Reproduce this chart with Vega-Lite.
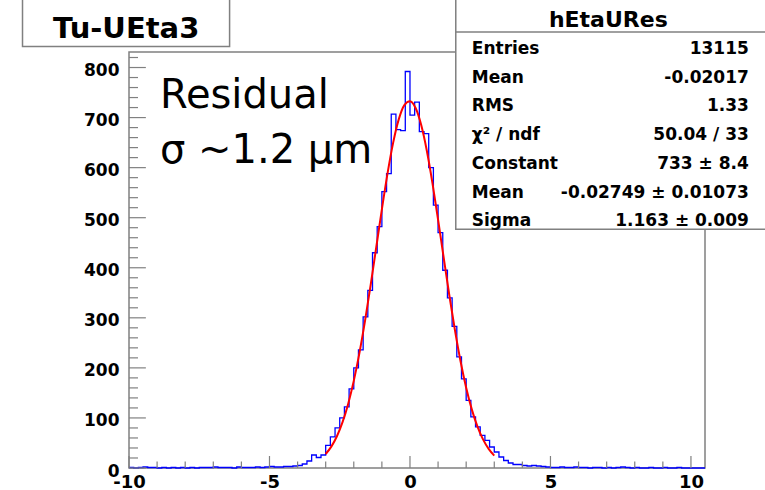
{
  "$schema": "https://vega.github.io/schema/vega-lite/v6.json",
  "width": 576,
  "height": 416,
  "autosize": {"type": "none"},
  "padding": {"left": 129, "top": 52, "right": 60, "bottom": 22},
  "background": "white",
  "config": {"view": {"stroke": "#808080", "strokeWidth": 1.5}, "font": "DejaVu Sans"},
  "datasets": {
    "hist": [
      {"x": -10, "n": 1}, {"x": -9.8333, "n": 0}, {"x": -9.6667, "n": 1}, {"x": -9.5, "n": 2}, {"x": -9.3333, "n": 1},
      {"x": -9.1667, "n": 1}, {"x": -9, "n": 0}, {"x": -8.8333, "n": 1}, {"x": -8.6667, "n": 0}, {"x": -8.5, "n": 1},
      {"x": -8.3333, "n": 0}, {"x": -8.1667, "n": 1}, {"x": -8, "n": 0}, {"x": -7.8333, "n": 1}, {"x": -7.6667, "n": 0},
      {"x": -7.5, "n": 1}, {"x": -7.3333, "n": 1}, {"x": -7.1667, "n": 1}, {"x": -7, "n": 2}, {"x": -6.8333, "n": 1},
      {"x": -6.6667, "n": 1}, {"x": -6.5, "n": 1}, {"x": -6.3333, "n": 0}, {"x": -6.1667, "n": 2}, {"x": -6, "n": 1},
      {"x": -5.8333, "n": 1}, {"x": -5.6667, "n": 1}, {"x": -5.5, "n": 2}, {"x": -5.3333, "n": 1}, {"x": -5.1667, "n": 2},
      {"x": -5, "n": 3}, {"x": -4.8333, "n": 2}, {"x": -4.6667, "n": 2}, {"x": -4.5, "n": 3}, {"x": -4.3333, "n": 3},
      {"x": -4.1667, "n": 4}, {"x": -4, "n": 5}, {"x": -3.8333, "n": 8}, {"x": -3.6667, "n": 14}, {"x": -3.5, "n": 26},
      {"x": -3.3333, "n": 21}, {"x": -3.1667, "n": 26}, {"x": -3, "n": 45}, {"x": -2.8333, "n": 62}, {"x": -2.6667, "n": 80},
      {"x": -2.5, "n": 100}, {"x": -2.3333, "n": 122}, {"x": -2.1667, "n": 158}, {"x": -2, "n": 200}, {"x": -1.8333, "n": 236},
      {"x": -1.6667, "n": 302}, {"x": -1.5, "n": 355}, {"x": -1.3333, "n": 430}, {"x": -1.1667, "n": 482}, {"x": -1, "n": 552},
      {"x": -0.8333, "n": 588}, {"x": -0.6667, "n": 707}, {"x": -0.5, "n": 676}, {"x": -0.3333, "n": 674}, {"x": -0.1667, "n": 792},
      {"x": 0, "n": 705}, {"x": 0.1667, "n": 731}, {"x": 0.3333, "n": 672}, {"x": 0.5, "n": 668}, {"x": 0.6667, "n": 600},
      {"x": 0.8333, "n": 525}, {"x": 1, "n": 470}, {"x": 1.1667, "n": 395}, {"x": 1.3333, "n": 340}, {"x": 1.5, "n": 283},
      {"x": 1.6667, "n": 222}, {"x": 1.8333, "n": 178}, {"x": 2, "n": 135}, {"x": 2.1667, "n": 102}, {"x": 2.3333, "n": 82},
      {"x": 2.5, "n": 65}, {"x": 2.6667, "n": 55}, {"x": 2.8333, "n": 42}, {"x": 3, "n": 32}, {"x": 3.1667, "n": 22},
      {"x": 3.3333, "n": 15}, {"x": 3.5, "n": 10}, {"x": 3.6667, "n": 7}, {"x": 3.8333, "n": 7}, {"x": 4, "n": 5},
      {"x": 4.1667, "n": 4}, {"x": 4.3333, "n": 5}, {"x": 4.5, "n": 4}, {"x": 4.6667, "n": 3}, {"x": 4.8333, "n": 2},
      {"x": 5, "n": 1}, {"x": 5.1667, "n": 1}, {"x": 5.3333, "n": 2}, {"x": 5.5, "n": 1}, {"x": 5.6667, "n": 1},
      {"x": 5.8333, "n": 2}, {"x": 6, "n": 1}, {"x": 6.1667, "n": 1}, {"x": 6.3333, "n": 0}, {"x": 6.5, "n": 1},
      {"x": 6.6667, "n": 1}, {"x": 6.8333, "n": 0}, {"x": 7, "n": 1}, {"x": 7.1667, "n": 0}, {"x": 7.3333, "n": 1},
      {"x": 7.5, "n": 2}, {"x": 7.6667, "n": 1}, {"x": 7.8333, "n": 0}, {"x": 8, "n": 1}, {"x": 8.1667, "n": 0},
      {"x": 8.3333, "n": 0}, {"x": 8.5, "n": 1}, {"x": 8.6667, "n": 0}, {"x": 8.8333, "n": 0}, {"x": 9, "n": 1},
      {"x": 9.1667, "n": 0}, {"x": 9.3333, "n": 0}, {"x": 9.5, "n": 1}, {"x": 9.6667, "n": 0}, {"x": 9.8333, "n": 0},
      {"x": 10, "n": 0}, {"x": 10.1667, "n": 0}, {"x": 10.3333, "n": 0}, {"x": 10.5, "n": 0}
    ],
    "fit": [
      {"x": -3.0, "f": 27.96}, {"x": -2.8, "f": 42.76}, {"x": -2.6, "f": 63.49}, {"x": -2.4, "f": 91.5}, {"x": -2.2, "f": 128.0},
      {"x": -2.0, "f": 174.0}, {"x": -1.8, "f": 229.5}, {"x": -1.6, "f": 293.8}, {"x": -1.4, "f": 365.3}, {"x": -1.2, "f": 441.0},
      {"x": -1.0, "f": 516.7}, {"x": -0.8, "f": 587.9}, {"x": -0.6, "f": 649.4}, {"x": -0.4, "f": 696.4}, {"x": -0.2, "f": 725.0},
      {"x": 0.0, "f": 732.8}, {"x": 0.2, "f": 719.1}, {"x": 0.4, "f": 685.1}, {"x": 0.6, "f": 633.7}, {"x": 0.8, "f": 569.1},
      {"x": 1.0, "f": 496.1}, {"x": 1.2, "f": 420.0}, {"x": 1.4, "f": 345.1}, {"x": 1.6, "f": 275.3}, {"x": 1.8, "f": 213.3},
      {"x": 2.0, "f": 160.4}, {"x": 2.2, "f": 117.1}, {"x": 2.4, "f": 83.0}, {"x": 2.6, "f": 57.1}, {"x": 2.8, "f": 38.2},
      {"x": 3.0, "f": 24.8}
    ],
    "xticks": [
      {"v": -10, "major": true}, {"v": -9, "major": false}, {"v": -8, "major": false}, {"v": -7, "major": false}, {"v": -6, "major": false},
      {"v": -5, "major": true}, {"v": -4, "major": false}, {"v": -3, "major": false}, {"v": -2, "major": false}, {"v": -1, "major": false},
      {"v": 0, "major": true}, {"v": 1, "major": false}, {"v": 2, "major": false}, {"v": 3, "major": false}, {"v": 4, "major": false},
      {"v": 5, "major": true}, {"v": 6, "major": false}, {"v": 7, "major": false}, {"v": 8, "major": false}, {"v": 9, "major": false},
      {"v": 10, "major": true}
    ],
    "yticks": [
      {"v": 0, "major": true}, {"v": 20, "major": false}, {"v": 40, "major": false}, {"v": 60, "major": false}, {"v": 80, "major": false},
      {"v": 100, "major": true}, {"v": 120, "major": false}, {"v": 140, "major": false}, {"v": 160, "major": false}, {"v": 180, "major": false},
      {"v": 200, "major": true}, {"v": 220, "major": false}, {"v": 240, "major": false}, {"v": 260, "major": false}, {"v": 280, "major": false},
      {"v": 300, "major": true}, {"v": 320, "major": false}, {"v": 340, "major": false}, {"v": 360, "major": false}, {"v": 380, "major": false},
      {"v": 400, "major": true}, {"v": 420, "major": false}, {"v": 440, "major": false}, {"v": 460, "major": false}, {"v": 480, "major": false},
      {"v": 500, "major": true}, {"v": 520, "major": false}, {"v": 540, "major": false}, {"v": 560, "major": false}, {"v": 580, "major": false},
      {"v": 600, "major": true}, {"v": 620, "major": false}, {"v": 640, "major": false}, {"v": 660, "major": false}, {"v": 680, "major": false},
      {"v": 700, "major": true}, {"v": 720, "major": false}, {"v": 740, "major": false}, {"v": 760, "major": false}, {"v": 780, "major": false},
      {"v": 800, "major": true}, {"v": 820, "major": false}
    ]
  },
  "layer": [
    {
      "data": {"name": "hist"},
      "mark": {"type": "line", "interpolate": "step-after", "color": "#0000ff", "strokeWidth": 1.3},
      "encoding": {
        "x": {
          "field": "x", "type": "quantitative",
          "scale": {"domain": [-10, 10.5], "nice": false, "zero": false},
          "axis": {
            "title": null, "grid": false, "domain": false, "ticks": false,
            "values": [-10, -5, 0, 5, 10],
            "labelExpr": "'' + datum.value",
            "labelFont": "DejaVu Sans", "labelFontWeight": "bold", "labelFontSize": 18, "labelColor": "black",
            "labelPadding": 5, "labelFlush": false, "labelOverlap": false
          }
        },
        "y": {
          "field": "n", "type": "quantitative",
          "scale": {"domain": [0, 831], "nice": false, "zero": false},
          "axis": {
            "title": null, "grid": false, "domain": false, "ticks": false,
            "values": [0, 100, 200, 300, 400, 500, 600, 700, 800],
            "labelExpr": "'' + datum.value",
            "labelFont": "DejaVu Sans", "labelFontWeight": "bold", "labelFontSize": 17, "labelColor": "black",
            "labelPadding": 10, "labelOffset": 3, "labelFlush": false, "labelOverlap": false
          }
        }
      }
    },
    {
      "data": {"name": "xticks"},
      "transform": [{"filter": "datum.major"}],
      "mark": {"type": "rule", "color": "#808080", "strokeWidth": 1.2},
      "encoding": {"x": {"field": "v", "type": "quantitative"}, "y": {"datum": 0}, "y2": {"datum": 24}}
    },
    {
      "data": {"name": "xticks"},
      "transform": [{"filter": "!datum.major"}],
      "mark": {"type": "rule", "color": "#808080", "strokeWidth": 1.2},
      "encoding": {"x": {"field": "v", "type": "quantitative"}, "y": {"datum": 0}, "y2": {"datum": 13}}
    },
    {
      "data": {"name": "yticks"},
      "transform": [{"filter": "datum.major"}],
      "mark": {"type": "rule", "color": "#808080", "strokeWidth": 1.2},
      "encoding": {"y": {"field": "v", "type": "quantitative"}, "x": {"datum": -10}, "x2": {"datum": -9.4}}
    },
    {
      "data": {"name": "yticks"},
      "transform": [{"filter": "!datum.major"}],
      "mark": {"type": "rule", "color": "#808080", "strokeWidth": 1.2},
      "encoding": {"y": {"field": "v", "type": "quantitative"}, "x": {"datum": -10}, "x2": {"datum": -9.68}}
    },
    {
      "data": {"name": "fit"},
      "mark": {"type": "line", "interpolate": "monotone", "color": "#ff0000", "strokeWidth": 2},
      "encoding": {
        "x": {"field": "x", "type": "quantitative"},
        "y": {"field": "f", "type": "quantitative"}
      }
    },
    {
      "data": {"values": [{}]},
      "mark": {"type": "text", "clip": false, "align": "left", "baseline": "alphabetic", "font": "DejaVu Sans", "fontSize": 40, "color": "black", "lineHeight": 55},
      "encoding": {
        "x": {"datum": -8.9},
        "y": {"datum": 719},
        "text": {"value": ["Residual", "σ ~1.2 μm"]}
      }
    },
    {
      "data": {"values": [{}]},
      "mark": {"type": "rect", "clip": false, "fill": "white", "stroke": "#808080", "strokeWidth": 1.5},
      "encoding": {
        "x": {"datum": -13.79}, "x2": {"datum": -6.42},
        "y": {"datum": 842}, "y2": {"datum": 960}
      }
    },
    {
      "data": {"values": [{}]},
      "mark": {"type": "text", "clip": false, "align": "center", "baseline": "alphabetic", "font": "DejaVu Sans", "fontWeight": "bold", "fontSize": 29, "color": "black"},
      "encoding": {
        "x": {"datum": -10.1},
        "y": {"datum": 859},
        "text": {"value": "Tu-UEta3"}
      }
    },
    {
      "data": {"values": [{}]},
      "mark": {"type": "rect", "clip": false, "fill": "white", "stroke": "#808080", "strokeWidth": 1.5},
      "encoding": {
        "x": {"datum": 1.63}, "x2": {"datum": 13.5},
        "y": {"datum": 477}, "y2": {"datum": 960}
      }
    },
    {
      "data": {"values": [{}]},
      "mark": {"type": "rule", "clip": false, "color": "#808080", "strokeWidth": 1.5},
      "encoding": {
        "x": {"datum": 1.63}, "x2": {"datum": 13.5},
        "y": {"datum": 871}
      }
    },
    {
      "data": {"values": [{}]},
      "mark": {"type": "text", "clip": false, "align": "center", "baseline": "alphabetic", "font": "DejaVu Sans", "fontWeight": "bold", "fontSize": 22, "color": "black"},
      "encoding": {
        "x": {"datum": 7.06},
        "y": {"datum": 881},
        "text": {"value": "hEtaURes"}
      }
    },
    {
      "data": {"values": [{}]},
      "mark": {"type": "text", "clip": false, "align": "left", "baseline": "alphabetic", "font": "DejaVu Sans", "fontWeight": "bold", "fontSize": 17, "color": "black", "lineHeight": 28.7},
      "encoding": {
        "x": {"datum": 2.2},
        "y": {"datum": 827},
        "text": {"value": ["Entries", "Mean", "RMS", "χ² / ndf", "Constant", "Mean", "Sigma"]}
      }
    },
    {
      "data": {"values": [{}]},
      "mark": {"type": "text", "clip": false, "align": "right", "baseline": "alphabetic", "font": "DejaVu Sans", "fontWeight": "bold", "fontSize": 17, "color": "black", "lineHeight": 28.7},
      "encoding": {
        "x": {"datum": 12.06},
        "y": {"datum": 827},
        "text": {"value": ["13115", "-0.02017", "1.33", "50.04 / 33", "733 ± 8.4", "-0.02749 ± 0.01073", "1.163 ± 0.009"]}
      }
    }
  ]
}
